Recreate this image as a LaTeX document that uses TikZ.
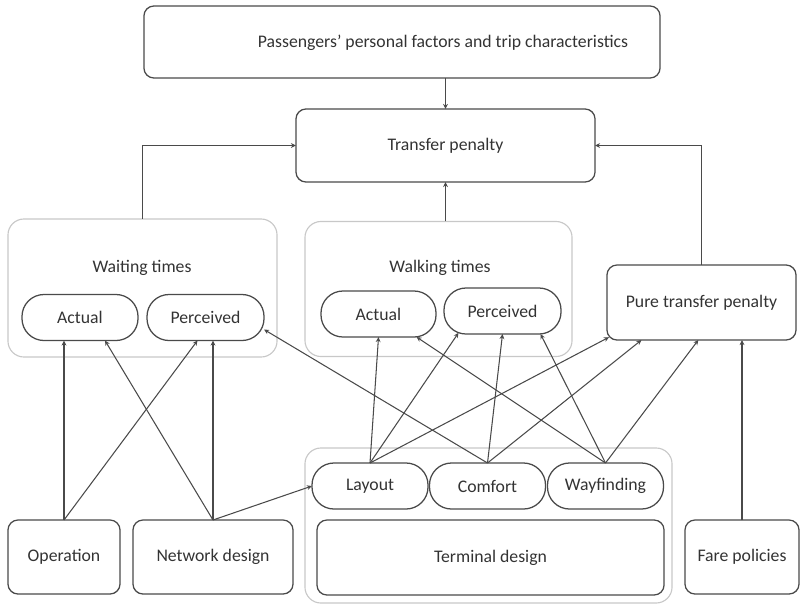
\documentclass[tikz,border=0pt]{standalone}
\usepackage{fontspec}
\setmainfont{Carlito}
\usetikzlibrary{positioning, arrows.meta}

\definecolor{boxline}{HTML}{4A4A4A}
\definecolor{grpline}{HTML}{C8C8C8}
\definecolor{txt}{HTML}{333333}

\tikzset{
  box/.style={draw=boxline, line width=0.9pt, rounded corners=0.25cm, inner sep=0pt, outer sep=0pt, text=txt},
  pill/.style={draw=boxline, line width=0.9pt, rounded corners=0.55cm, inner sep=0pt, outer sep=0pt, minimum width=2.9cm, minimum height=1.15cm, text=txt},
  grp/.style={draw=grpline, line width=0.8pt, rounded corners=0.4cm, inner sep=0pt, outer sep=0pt},
  lbl/.style={text=txt, inner sep=1pt},
  link/.style={draw=boxline, line width=0.75pt, -{Stealth[length=3.6pt, width=3.4pt]}}
}

\begin{document}
\begin{tikzpicture}[x=0.025cm, y=-0.025cm, font=\fontsize{12.6}{15}\selectfont]
    \useasboundingbox (0,0) rectangle (800,606);

    % groups
    \node [grp, minimum width=6.725cm, minimum height=3.45cm] (wgrp) at (142.5,288) {};
    \node [grp, minimum width=6.675cm, minimum height=3.375cm] (kgrp) at (438.5,289) {};
    \node [grp, minimum width=9.175cm, minimum height=3.875cm] (tgrp) at (488.5,525.5) {};

    % top
    \node [box, minimum width=12.9cm, minimum height=1.8cm] (pax) at (402,42) {};
    \node [lbl] (paxtext) at (443,43) {Passengers’ personal factors and trip characteristics};
    \node [box, minimum width=7.475cm, minimum height=1.825cm] (tp) at (445.5,145.5) {Transfer penalty};

    % waiting and walking times
    \node [lbl] (wtext) at (142,268) {Waiting times};
    \node [pill] (wact) at (80,317.5) {Actual};
    \node [pill, minimum width=2.925cm] (wper) at (205.5,317.5) {Perceived};
    \node [lbl] (ktext) at (440,268) {Walking times};
    \node [pill, minimum width=2.875cm] (kact) at (378.5,314) {Actual};
    \node [pill, minimum width=2.925cm] (kper) at (502.5,311) {Perceived};
    \node [box, minimum width=4.725cm, minimum height=1.875cm] (pure) at (701.5,302.5) {Pure transfer penalty};

    % bottom
    \node [box, minimum width=2.8cm, minimum height=1.85cm] (op) at (64,557) {Operation};
    \node [box, minimum width=4cm, minimum height=1.85cm] (nd) at (213,557) {Network design};
    \node [pill] (layout) at (370,486) {Layout};
    \node [pill] (comfort) at (487.5,486) {Comfort};
    \node [pill] (wayf) at (605.5,486) {Wayfinding};
    \node [box, minimum width=8.675cm, minimum height=1.875cm] (td) at (490.5,557.5) {Terminal design};
    \node [box, minimum width=2.85cm, minimum height=1.85cm] (fare) at (742,557) {Fare policies};

    % upper links
    \draw [link] (tp.north |- pax.south) -- (tp.north);
    \draw [link] (wgrp.north) |- (tp.west);
    \draw [link] (pure.north) |- (tp.east);
    \draw [link] (tp.south |- kgrp.north) -- (tp.south);

    % lower links
    \draw [link] (op.north) -- (op.north |- wact.south);
    \draw [link] (op.north) -- ([xshift=-0.2cm]wper.south);
    \draw [link] (nd.north) -- ([xshift=0.625cm]wact.south);
    \draw [link] (nd.north) -- (nd.north |- wper.south);
    \draw [link] (nd.north) -- (layout.west);
    \draw [link] (layout.north) -- (kact.south);
    \draw [link] (layout.north) -- ([xshift=-1.1cm, yshift=0.03cm]kper.south);
    \draw [link] (layout.north) -- ([shift={(0.05cm,0.07cm)}]pure.south west);
    \draw [link] (comfort.north) -- ([yshift=-0.3cm]wper.east);
    \draw [link] (comfort.north) -- (kper.south);
    \draw [link] (comfort.north) -- ([xshift=-1.5cm]pure.south);
    \draw [link] (wayf.north) -- ([xshift=0.95cm]kact.south);
    \draw [link] (wayf.north) -- ([xshift=0.95cm]kper.south);
    \draw [link] (wayf.north) -- ([xshift=-0.08cm]pure.south);
    \draw [link] (fare.north) -- (fare.north |- pure.south);
\end{tikzpicture}
\end{document}
